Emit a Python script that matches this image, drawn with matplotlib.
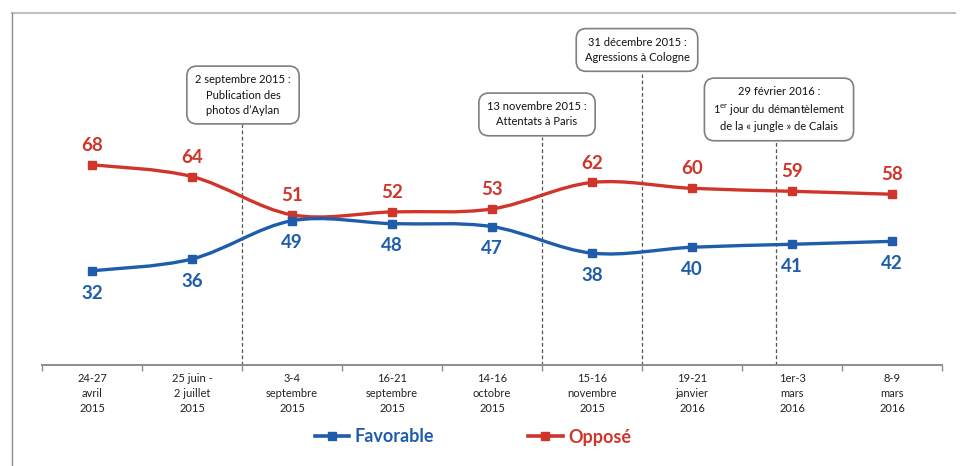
import numpy as np
import matplotlib
matplotlib.use("Agg")
import matplotlib.pyplot as plt
from matplotlib.path import Path
from matplotlib.patches import PathPatch
from matplotlib.lines import Line2D

plt.rcParams['font.family'] = ['Lato', 'DejaVu Sans']
plt.rcParams['mathtext.default'] = 'regular'

categories = ["24-27\navril\n2015", "25 juin -\n2 juillet\n2015", "3-4\nseptembre\n2015",
              "16-21\nseptembre\n2015", "14-16\noctobre\n2015", "15-16\nnovembre\n2015",
              "19-21\njanvier\n2016", "1er-3\nmars\n2016", "8-9\nmars\n2016"]
favorable = [32, 36, 49, 48, 47, 38, 40, 41, 42]
oppose = [68, 64, 51, 52, 53, 62, 60, 59, 58]

# events: x position between surveys, box text, box centre, top of dashed line
event_x = [1.5, 4.5, 5.5, 6.84]
event_text = ["2 septembre 2015 :\nPublication des\nphotos d\u2019Aylan",
              "13 novembre 2015 :\nAttentats \u00e0 Paris",
              "31 d\u00e9cembre 2015 :\nAgressions \u00e0 Cologne",
              "29 f\u00e9vrier 2016 :\n1$^{er}$ jour du d\u00e9mant\u00e8lement\nde la \u00ab jungle \u00bb de Calais"]
event_box_x = [1.51, 4.45, 5.45, 6.87]
event_box_y = [91.7, 85.1, 107.0, 86.8]
event_line_top = [81.9, 77.4, 98.8, 76.1]

BLUE = "#1F5DAB"
RED = "#D0352B"


def smooth_path(xs, ys):
    # catmull-rom -> cubic bezier, like excel "smoothed line"
    pts = np.column_stack([xs, ys]).astype(float)
    verts = [pts[0]]
    codes = [Path.MOVETO]
    n = len(pts)
    for i in range(n - 1):
        p0 = pts[max(i - 1, 0)]
        p1 = pts[i]
        p2 = pts[i + 1]
        p3 = pts[min(i + 2, n - 1)]
        c1 = p1 + (p2 - p0) / 6.0
        c2 = p2 - (p3 - p1) / 6.0
        verts += [c1, c2, p2]
        codes += [Path.CURVE4] * 3
    return Path(verts, codes)


fig = plt.figure(figsize=(9.63, 4.66), dpi=100)
ax = fig.add_axes([42 / 963, (466 - 365) / 466, 900 / 963, (365 - 26.4) / 466])
x = np.arange(len(categories))

for vals, col in [(oppose, RED), (favorable, BLUE)]:
    ax.add_patch(PathPatch(smooth_path(x, vals), facecolor="none", edgecolor=col, lw=2.4,
                           capstyle="round", zorder=3))
    ax.plot(x, vals, ls="none", marker="s", ms=6, color=col, zorder=4)

for i, v in enumerate(oppose):
    ax.annotate(str(v), (i, v), xytext=(0, 14), textcoords="offset points", ha="center",
                va="center", color=RED, fontsize=13.5, fontweight="bold")
for i, v in enumerate(favorable):
    ax.annotate(str(v), (i, v), xytext=(0, -16), textcoords="offset points", ha="center",
                va="center", color=BLUE, fontsize=13.5, fontweight="bold")

for ex, txt, bx, by, top in zip(event_x, event_text, event_box_x, event_box_y, event_line_top):
    ax.plot([ex, ex], [0, top], color="#555555", lw=0.9, ls=(0, (3, 2)), zorder=2)
    ax.text(bx, by, txt, ha="center", va="center", fontsize=8, color="#111111",
            linespacing=1.45, zorder=5,
            bbox=dict(boxstyle="round,pad=0.75,rounding_size=0.9", fc="white",
                      ec="#7f7f7f", lw=1.2))

ax.set_xlim(-0.5, len(categories) - 0.5)
ax.set_ylim(0, 115)
for s in ["left", "right", "top"]:
    ax.spines[s].set_visible(False)
ax.spines["bottom"].set_color("#8c8c8c")
ax.spines["bottom"].set_linewidth(1.4)
ax.set_yticks([])
ax.set_xticks(x)
ax.set_xticklabels(categories, fontsize=8, color="#222222", linespacing=1.45)
ax.tick_params(axis="x", which="major", length=0, pad=6)
ax.set_xticks(np.arange(-0.5, len(categories)), minor=True)
ax.tick_params(axis="x", which="minor", length=4, color="#8c8c8c", width=1, direction="out")

handles = [Line2D([], [], color=BLUE, lw=2.6, marker="s", ms=6),
           Line2D([], [], color=RED, lw=2.6, marker="s", ms=6)]
fig.legend(handles, ["Favorable", "Oppos\u00e9"], loc="center", bbox_to_anchor=(473 / 963, 1 - 437 / 466),
           ncol=2, frameon=False, handlelength=1.9, handletextpad=0.3, columnspacing=5.2,
           labelcolor="linecolor", prop=dict(size=13, weight="bold"))

# outer frame lines (top and left)
fig.add_artist(Line2D([12 / 963, 955 / 963], [1 - 13 / 466, 1 - 13 / 466], color="#c0c0c0", lw=1.5))
fig.add_artist(Line2D([12 / 963, 12 / 963], [0, 1 - 13 / 466], color="#8c8c8c", lw=1.0))

fig.savefig("out.png", dpi=100)
